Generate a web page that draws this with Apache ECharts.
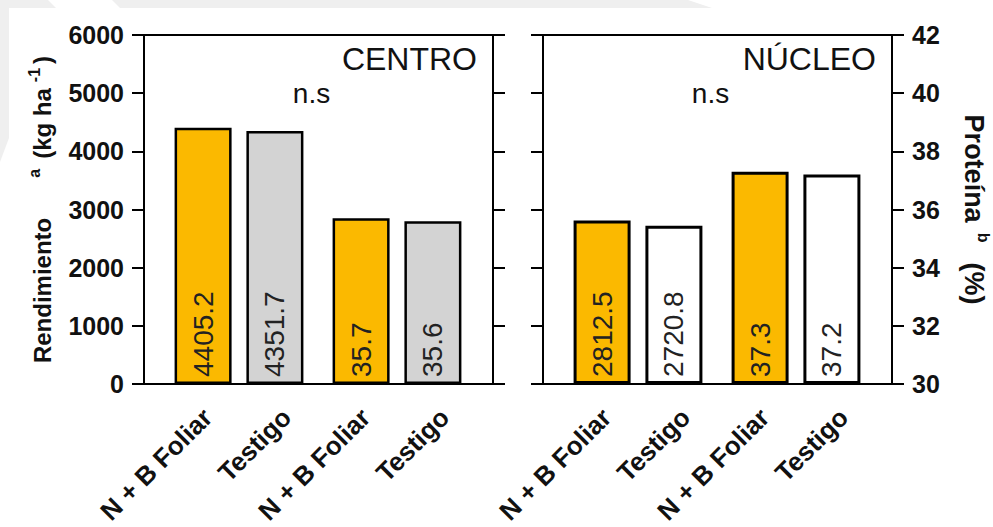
<!DOCTYPE html>
<html>
<head>
<meta charset="utf-8">
<script src="https://cdn.jsdelivr.net/npm/echarts@6/dist/echarts.min.js"></script>
<style>
  html, body { margin: 0; padding: 0; background: #fff; }
  #chart { width: 993px; height: 527px; }
</style>
</head>
<body>
<div id="chart"></div>
<script>
// ---- data ----
const panelNames = ['CENTRO', 'NÚCLEO'];
const panelNotes = ['n.s', 'n.s'];
const treatments = ['N + B Foliar', 'Testigo'];
const measures = ['Rendimiento', 'Proteína'];
// yield (kg ha-1), order follows treatments
const yieldCentro = [4405.2, 4351.7];
const yieldNucleo = [2812.5, 2720.8];
// protein (%), order follows treatments
const proteinCentro = [35.7, 35.6];
const proteinNucleo = [37.3, 37.2];
// axis ranges
const yieldAxis = { min: 0, max: 6000, interval: 1000 };
const proteinAxis = { min: 30, max: 42, interval: 2 };

// ---- look ----
const FONT = '"Liberation Sans", Arial, Helvetica, sans-serif';
const INK = '#111';
const treatmentColors = [['#FBB900', '#D3D3D3'], ['#FBB900', '#FFFFFF']];
const barBorder = [2.5, 3];
const frame = { lefts: [144, 543], top: 35, width: 349, height: 349 };
const barInset = 16, barAreaWidth = 316;

const yieldData = [yieldCentro, yieldNucleo];
const proteinData = [proteinCentro, proteinNucleo];

const grid = [], xAxis = [], yAxis = [], series = [], graphic = [];

// faint backdrop shapes along the top-left edge
graphic.push(
  { type: 'polygon', z: -10, shape: { points: [[0,0],[48,0],[56,8],[9,8],[9,138],[0,162]] }, style: { fill: '#efefef' } },
  { type: 'polygon', z: -10, shape: { points: [[112,0],[688,0],[712,8],[120,8]] }, style: { fill: '#efefef' } }
);

function tickAxis(range, gridIndex, position, showLabels, extra) {
  return Object.assign({
    type: 'value', gridIndex, position,
    min: range.min, max: range.max, interval: range.interval,
    axisLine: { show: true, lineStyle: { color: '#000', width: 2 } },
    axisTick: { show: true, inside: false, length: 12, lineStyle: { color: '#000', width: 2 } },
    splitLine: { show: false },
    axisLabel: { show: showLabels, margin: 20, fontSize: 25, fontWeight: 'bold', color: INK,
                 fontFamily: FONT, formatter: v => String(v) }
  }, extra || {});
}

function hiddenValueAxis(range, gridIndex) {
  return { type: 'value', gridIndex, min: range.min, max: range.max, startValue: range.min,
           show: false, splitLine: { show: false } };
}

function valueLabel(v) {
  return Number(v).toFixed(1);
}

// bold axis title with raised superscripts
function titleStyle(size, supSize, gaps) {
  const rich = {
    m: { fontSize: size, fontWeight: 'bold', color: INK, fontFamily: FONT },
    sup: { fontSize: supSize, fontWeight: 'bold', color: INK, fontFamily: FONT,
           verticalAlign: 'top', lineHeight: size + 8 }
  };
  Object.keys(gaps).forEach(k => { rich[k] = { width: gaps[k] }; });
  return { fontSize: size, fontWeight: 'bold', color: INK, fontFamily: FONT, rich };
}

for (let p = 0; p < 2; p++) {
  const left = frame.lefts[p];

  // boxed frame carrying the tick axes
  const gFrame = grid.length;
  grid.push({ left, top: frame.top, width: frame.width, height: frame.height,
              show: true, borderColor: '#000', borderWidth: 2, backgroundColor: 'transparent' });
  // inner area where the bar pairs are laid out
  const gBars = grid.length;
  grid.push({ left: left + barInset, top: frame.top, width: barAreaWidth, height: frame.height });
  // treatment names under each bar
  const gNames = grid.length;
  grid.push({ left: left + barInset + 8, top: frame.top, width: barAreaWidth, height: frame.height });

  xAxis.push({ type: 'value', gridIndex: gFrame, show: false });
  const xYield = xAxis.length;
  xAxis.push({ type: 'category', gridIndex: gBars, data: measures, show: false });
  const xProt = xAxis.length;
  xAxis.push({ type: 'category', gridIndex: gBars, data: measures, show: false });
  xAxis.push({
    type: 'category', gridIndex: gNames,
    data: measures.flatMap(() => treatments),
    axisLine: { show: false }, axisTick: { show: false },
    axisLabel: { interval: 0, rotate: 45, margin: 33, fontSize: 26, fontWeight: 'bold',
                 color: INK, fontFamily: FONT }
  });

  yAxis.push(tickAxis(yieldAxis, gFrame, 'left', p === 0, p === 0 ? {
    name: '{m|Rendimiento}{g1|}{sup|a}{g2|}{m|(kg ha}{g3|}{sup|-1}{g4|}{m|)}',
    nameLocation: 'middle', nameRotate: 90, nameGap: 86,
    nameTextStyle: titleStyle(24, 16, { g1: 40, g2: 10, g3: 6, g4: 4 })
  } : null));
  yAxis.push(tickAxis(proteinAxis, gFrame, 'right', p === 1, p === 1 ? {
    name: '{m|Proteína}{g1|}{sup|b}{g2|}{m|(%)}',
    nameLocation: 'middle', nameRotate: -90, nameGap: 64,
    nameTextStyle: titleStyle(27, 16, { g1: 10, g2: 20 })
  } : null));
  const yYield = yAxis.length;
  yAxis.push(hiddenValueAxis(yieldAxis, gBars));
  const yProt = yAxis.length;
  yAxis.push(hiddenValueAxis(proteinAxis, gBars));
  yAxis.push({ type: 'value', gridIndex: gNames, show: false, splitLine: { show: false } });

  const groups = [
    { xi: xYield, yi: yYield, values: yieldData[p], cat: 0 },
    { xi: xProt, yi: yProt, values: proteinData[p], cat: 1 }
  ];
  groups.forEach(gr => {
    treatments.forEach((t, ti) => {
      const data = measures.map((m, ci) => ci === gr.cat ? gr.values[ti] : '-');
      series.push({
        type: 'bar', name: t, xAxisIndex: gr.xi, yAxisIndex: gr.yi,
        data, barWidth: 57, barGap: '26%', clip: true,
        itemStyle: { color: treatmentColors[p][ti], borderColor: '#000', borderWidth: barBorder[p] },
        label: {
          show: true, position: 'insideBottom', distance: 7, rotate: 90,
          align: 'left', verticalAlign: 'middle',
          fontSize: 28, color: '#222', fontFamily: FONT,
          formatter: d => valueLabel(d.value)
        },
        emphasis: { disabled: true }
      });
    });
  });

  // panel heading and significance note
  graphic.push({
    type: 'text', x: left + frame.width - 16, y: 59,
    style: { text: panelNames[p], fill: INK, font: '32px ' + FONT, textAlign: 'right', textVerticalAlign: 'middle' }
  });
  graphic.push({
    type: 'text', x: left + frame.width / 2 - 7, y: 93,
    style: { text: panelNotes[p], fill: INK, font: '28px ' + FONT, textAlign: 'center', textVerticalAlign: 'middle' }
  });
}

const chart = echarts.init(document.getElementById('chart'), null, { renderer: 'svg' });
chart.setOption({
  animation: false,
  backgroundColor: '#fff',
  textStyle: { fontFamily: FONT },
  grid, xAxis, yAxis, series, graphic
});
</script>
</body>
</html>
